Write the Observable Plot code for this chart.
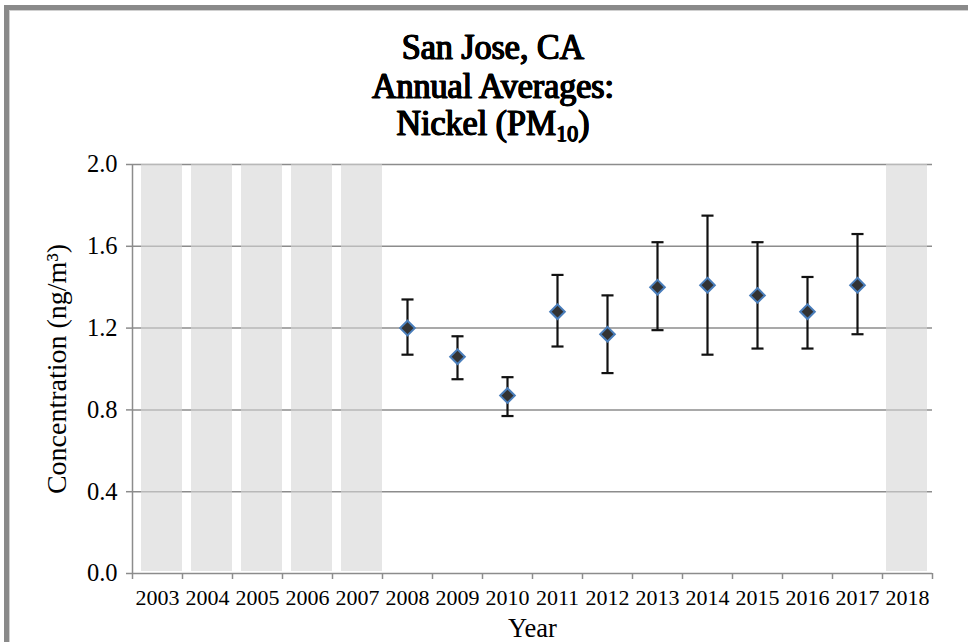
<!DOCTYPE html>
<html>
<head>
<meta charset="utf-8">
<script src="https://cdn.jsdelivr.net/npm/d3@7"></script>
<script src="https://cdn.jsdelivr.net/npm/@observablehq/plot@0.6"></script>
<style>
  html, body { margin: 0; padding: 0; background: #fff; }
  #page { position: relative; width: 968px; height: 642px; overflow: hidden; background: #fff; }
  #frame {
    position: absolute; left: 4px; top: 5px; width: 1000px; height: 700px;
    border-left: 5px solid #8a8a8a; border-top: 5px solid #8a8a8a;
    box-shadow: inset 1px 1px 0 #d0d0d0;
  }
  #title {
    position: absolute; left: 0; top: 28px; width: 986px; text-align: center;
    font-family: "Liberation Serif", serif; font-weight: 400;
    -webkit-text-stroke: 0.9px #000;
    text-shadow: 0.7px 0 0 #000, -0.7px 0 0 #000, 0 0.4px 0 #000;
    font-size: 34px; line-height: 35.5px; color: #000;
    transform: scaleY(1.07); transform-origin: top center;
  }
  #title sub { font-size: 22px; vertical-align: -6px; line-height: 0; -webkit-text-stroke: 0.7px #000; }
  #chart { position: absolute; left: 0; top: 145px; }
</style>
</head>
<body>
<div id="page">
  <div id="frame"></div>
  <div id="title">San Jose, CA<br>Annual Averages:<br>Nickel (PM<sub>10</sub>)</div>
  <div id="chart"></div>
</div>
<script>
// Annual average nickel (PM10) concentrations with error bars, ng/m³
const years = [2008, 2009, 2010, 2011, 2012, 2013, 2014, 2015, 2016, 2017];
const means = [1.20, 1.06, 0.87, 1.28, 1.17, 1.40, 1.41, 1.36, 1.28, 1.41];
const lower = [1.07, 0.95, 0.77, 1.11, 0.98, 1.19, 1.07, 1.10, 1.10, 1.17];
const upper = [1.34, 1.16, 0.96, 1.46, 1.36, 1.62, 1.75, 1.62, 1.45, 1.66];

// Years without a complete record, shaded in grey
const shadedEarly = [2003, 2004, 2005, 2006, 2007];
const shadedLate = [2018];

// Axis ticks
const yearTicks = d3.range(2003, 2019);
const yTicks = [0, 0.4, 0.8, 1.2, 1.6, 2.0];

const rows = years.map((year, i) => ({year, mean: means[i], lo: lower[i], hi: upper[i]}));

// Horizontal cap for the error bars
const cap = {
  draw(context, size) {
    const w = Math.sqrt(size) / 2;
    context.moveTo(-w, 0);
    context.lineTo(w, 0);
  }
};

const serif = "'Liberation Serif', serif";
const grey = "#8c8c8c";

const chart = Plot.plot({
  width: 968,
  height: 497,
  marginLeft: 132,
  marginRight: 36,
  marginTop: 19,
  marginBottom: 69,
  style: {fontFamily: serif, fontSize: "22px", color: "#000", background: "transparent"},
  x: {type: "linear", domain: [2002.5, 2018.5]},
  y: {domain: [0, 2]},
  marks: [
    // horizontal gridlines
    Plot.ruleY(yTicks.filter(t => t > 0), {stroke: grey, strokeWidth: 1.5}),
    // shaded years
    Plot.rectY(shadedEarly, {x1: d => d - 0.5, x2: d => d + 0.5, y1: 0, y2: 2,
      fill: "#d6d6d6", fillOpacity: 0.6, insetLeft: 9, insetRight: 0, insetBottom: 2}),
    Plot.rectY(shadedLate, {x1: d => d - 0.5, x2: d => d + 0.5, y1: 0, y2: 2,
      fill: "#d6d6d6", fillOpacity: 0.6, insetLeft: 4, insetRight: 5, insetBottom: 2}),
    // axis lines
    Plot.ruleX([2002.5], {stroke: grey, strokeWidth: 1.5}),
    Plot.ruleY([0], {stroke: grey, strokeWidth: 1.5}),
    // y axis
    Plot.axisY({ticks: yTicks, tickFormat: d3.format(".1f"), tickSize: 6, tickPadding: 9,
      stroke: grey, strokeWidth: 1.5, fontSize: 24.5, label: null}),
    Plot.text(["Concentration (ng/m³)"], {frameAnchor: "left", dx: -75, rotate: -90,
      textAnchor: "middle", lineAnchor: "middle", fontSize: 28, text: d => d}),
    // x axis: tick marks at year boundaries, labels at year centres
    Plot.axisX({ticks: d3.range(2002.5, 2019, 1), tickFormat: () => "", tickSize: 6,
      stroke: grey, strokeWidth: 1.5, label: null}),
    Plot.axisX({ticks: yearTicks, tickFormat: d => String(d), tickSize: 0, tickPadding: 16,
      fontSize: 22, label: null}),
    Plot.text(["Year"], {frameAnchor: "bottom", dy: 55, fontSize: 26.5, lineAnchor: "middle", text: d => d}),
    // error bars
    Plot.ruleX(rows, {x: "year", y1: "lo", y2: "hi", stroke: "#111", strokeWidth: 2.2}),
    Plot.dot(rows, {x: "year", y: "lo", symbol: cap, r: 6.8, stroke: "#111", strokeWidth: 2.2}),
    Plot.dot(rows, {x: "year", y: "hi", symbol: cap, r: 6.8, stroke: "#111", strokeWidth: 2.2}),
    // annual means
    Plot.dot(rows, {x: "year", y: "mean", symbol: "diamond2", r: 6.6,
      fill: "#333333", stroke: "#4a7ebb", strokeWidth: 2})
  ]
});

document.getElementById("chart").appendChild(chart);
</script>
</body>
</html>
